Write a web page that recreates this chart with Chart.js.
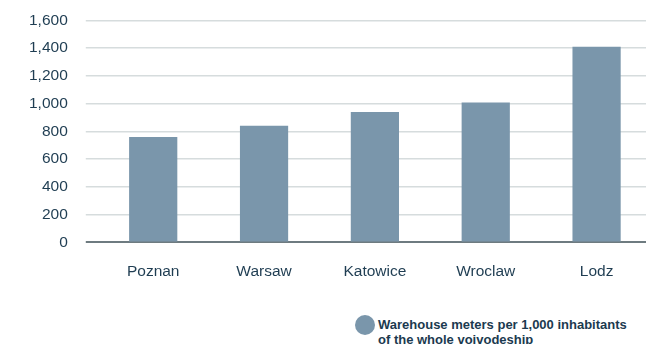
<!DOCTYPE html>
<html>
<head>
<meta charset="utf-8">
<script src="https://cdn.jsdelivr.net/npm/chart.js@4"></script>
<style>
  html, body { margin: 0; padding: 0; background: #fff; overflow: hidden; }
  #wrap { position: relative; width: 646px; height: 344px; overflow: hidden; }
  #box { position: absolute; left: 0; top: -7px; width: 652px; height: 300px; }
  #legend { position: absolute; left: 355px; top: 315px; font: bold 13px "Liberation Sans", Arial, sans-serif; color: #1b3a4f; line-height: 15px; }
  #legend .dot { position: absolute; left: 0; top: 0; width: 20px; height: 20px; border-radius: 50%; background: #7a96ab; }
  #legend .txt { margin-left: 23px; margin-top: 2px; }
</style>
</head>
<body>
<div id="wrap">
  <div id="box"><canvas id="barChart"></canvas></div>
  <div id="legend"><div class="dot"></div><div class="txt">Warehouse meters per 1,000 inhabitants<br>of the whole voivodeship</div></div>
</div>
<script>
// Data
const cities = ["Poznan", "Warsaw", "Katowice", "Wroclaw", "Lodz"];
const warehouseMeters = [760, 840, 940, 1007, 1410];
const seriesLabel = "Warehouse meters per 1,000 inhabitants of the whole voivodeship";

const BAR_COLOR = "#7a96ab";
const TEXT_COLOR = "#1f3d52";
const FONT = "'Liberation Sans', Arial, sans-serif";

function initializeChart() {
    const ctx = document.getElementById("barChart").getContext("2d");
    new Chart(ctx, {
        type: "bar",
        data: {
            labels: cities,
            datasets: [{
                label: seriesLabel,
                data: warehouseMeters,
                backgroundColor: BAR_COLOR,
                categoryPercentage: 1,
                barPercentage: 0.435
            }]
        },
        options: {
            responsive: true,
            maintainAspectRatio: false,
            animation: false,
            layout: { padding: { top: 2, right: 0, bottom: 0, left: 11 } },
            plugins: {
                legend: { display: false },
                tooltip: { enabled: false }
            },
            scales: {
                x: {
                    grid: { display: false },
                    border: { display: false },
                    ticks: {
                        color: TEXT_COLOR,
                        padding: 12,
                        font: { family: FONT, size: 15.5 }
                    }
                },
                y: {
                    min: 0,
                    max: 1600,
                    border: { display: false },
                    grid: {
                        color: ctx => ctx.tick && ctx.tick.value === 0 ? "#6e7b80" : "#d6dcdd",
                        lineWidth: ctx => ctx.tick && ctx.tick.value === 0 ? 2 : 1.5,
                        drawTicks: true,
                        tickLength: 12
                    },
                    ticks: {
                        stepSize: 200,
                        color: TEXT_COLOR,
                        padding: 18,
                        font: { family: FONT, size: 15.5 },
                        callback: v => v.toLocaleString("en-US")
                    }
                }
            }
        }
    });
}

document.addEventListener("DOMContentLoaded", initializeChart);
</script>
</body>
</html>
